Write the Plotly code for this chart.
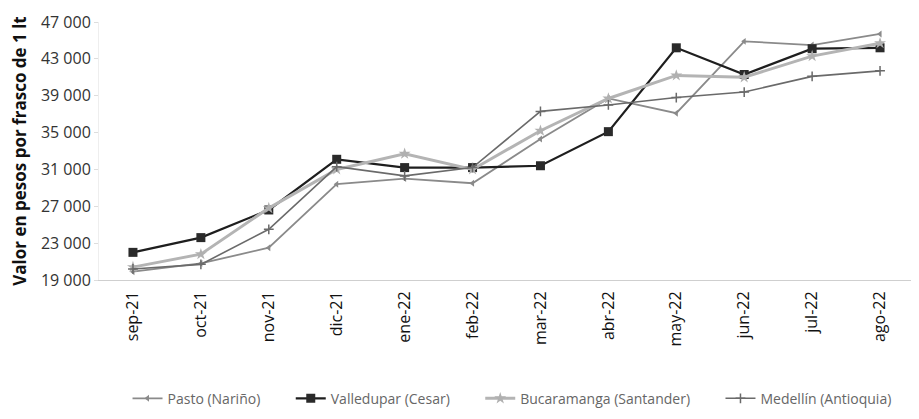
import plotly.graph_objects as go

months = ["sep-21", "oct-21", "nov-21", "dic-21", "ene-22", "feb-22",
          "mar-22", "abr-22", "may-22", "jun-22", "jul-22", "ago-22"]

pasto = [19900, 20800, 22500, 29400, 30000, 29500, 34300, 38700, 37100, 44900, 44500, 45700]
valledupar = [22000, 23600, 26600, 32100, 31200, 31200, 31400, 35100, 44200, 41300, 44100, 44200]
bucaramanga = [20400, 21800, 26800, 31000, 32700, 31000, 35200, 38700, 41200, 41000, 43300, 44700]
medellin = [20200, 20700, 24500, 31300, 30300, 31200, 37300, 38000, 38800, 39400, 41100, 41700]

y_ticks = [19000, 23000, 27000, 31000, 35000, 39000, 43000, 47000]

pad = "\u00a0" * 7

fig = go.Figure()
fig.add_trace(go.Scatter(x=months, y=pasto, name="Pasto (Nariño)" + pad, mode="lines+markers",
                         line=dict(color="#8a8a8a", width=1.8),
                         marker=dict(symbol="triangle-left", size=6, color="#8a8a8a")))
fig.add_trace(go.Scatter(x=months, y=valledupar, name="Valledupar (Cesar)" + pad, mode="lines+markers",
                         line=dict(color="#1e1e1e", width=2.2),
                         marker=dict(symbol="square", size=9, color="#2a2a2a")))
fig.add_trace(go.Scatter(x=months, y=bucaramanga, name="Bucaramanga (Santander)" + pad, mode="lines+markers",
                         line=dict(color="#b4b4b4", width=3),
                         marker=dict(symbol="star", size=9, color="#b0b0b0")))
fig.add_trace(go.Scatter(x=months, y=medellin, name="Medellín (Antioquia)", mode="lines+markers",
                         line=dict(color="#6a6a6a", width=1.6),
                         marker=dict(symbol="cross-thin", size=7, color="#6a6a6a",
                                     line=dict(color="#6a6a6a", width=1.5))))

fig.update_layout(
    width=919, height=419,
    margin=dict(l=91, r=13, t=14, b=137),
    paper_bgcolor="white", plot_bgcolor="white",
    font=dict(family="Open Sans, Liberation Sans, sans-serif", color="#222", size=14),
    separators=", ",
    showlegend=True,
    legend=dict(orientation="h", x=0.035, xanchor="left",
                y=-0.46, yanchor="middle",
                font=dict(size=14, color="#666"), itemwidth=30, tracegroupgap=0),
    xaxis=dict(type="category", range=[-0.5, 11.5], tickangle=-90, showline=True,
               linecolor="#cfcfcf", linewidth=1, ticks="", showgrid=False, automargin=False,
               ticklabelstandoff=4, tickfont=dict(size=16, color="#111")),
    yaxis=dict(range=[19000, 47000], tickvals=y_ticks, tickformat=",d",
               showgrid=False, showline=True, linecolor="#eeeeee", ticks="outside",
               ticklen=4, tickcolor="#dddddd", zeroline=False, automargin=False,
               tickfont=dict(size=16, color="#333"),
               title=dict(text="<b>Valor en pesos por frasco de 1 lt</b>", standoff=27,
                          font=dict(size=17, color="#111"))),
)

fig.write_html("out.html")
